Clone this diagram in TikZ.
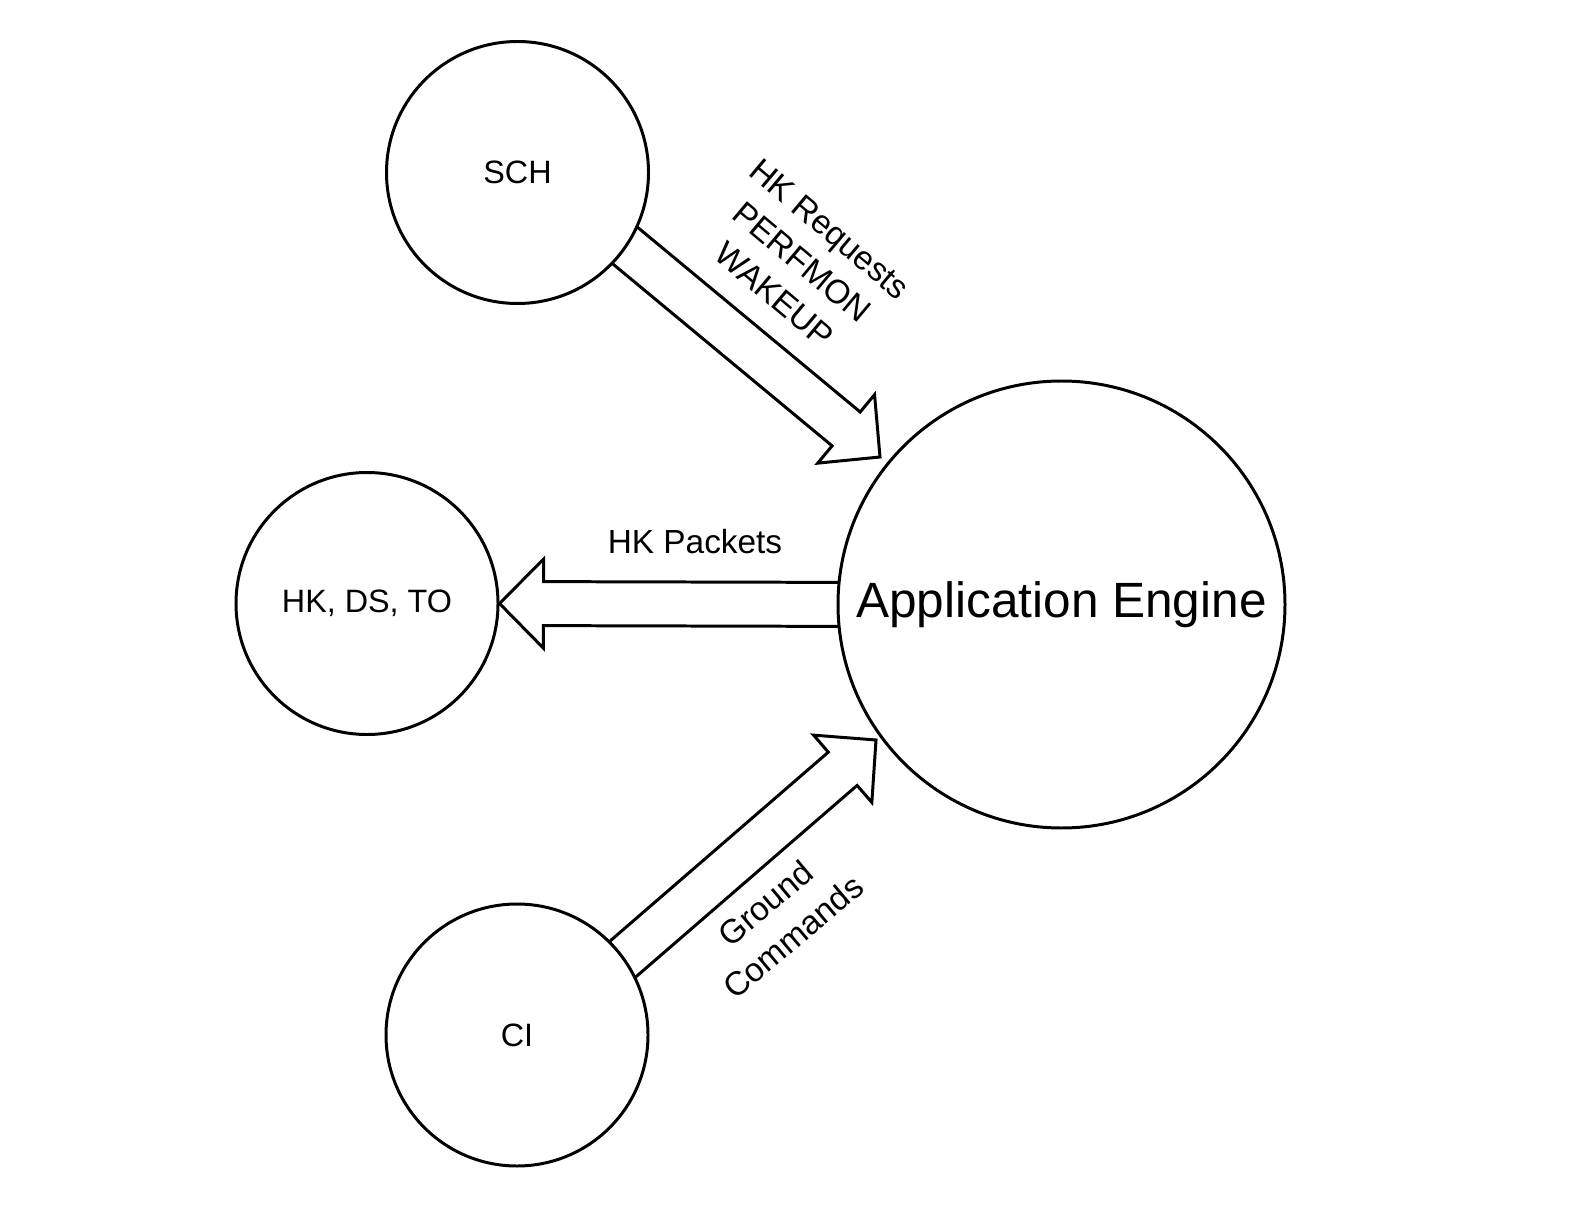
\documentclass[tikz,border=0pt]{standalone}
\usepackage{fontspec}
\setmainfont{Liberation Sans}
\usetikzlibrary{calc,backgrounds}

\tikzset{
  proc/.style={circle, draw, fill=white, line width=1.7pt, inner sep=0pt,
    minimum size=5.24cm, font=\fontsize{18.4}{22}\selectfont},
  flow/.style={draw, fill=white, line width=1.7pt},
  flowlabel/.style={align=center, font=\fontsize{19}{24.5}\selectfont}
}
% hollow block arrow from #1 to #2 (tip)
\newcommand{\fatarrow}[2]{
  \coordinate (hb) at ($(#2)!0.88cm!(#1)$);
  \draw[flow] ($(#1)!0.44cm!90:(#2)$) -- ($(hb)!0.44cm!90:(#2)$)
    -- ($(hb)!0.89cm!90:(#2)$) -- (#2) -- ($(hb)!0.89cm!-90:(#2)$)
    -- ($(hb)!0.44cm!-90:(#2)$) -- ($(#1)!0.44cm!-90:(#2)$) -- cycle;
}

\begin{document}
\begin{tikzpicture}
    \useasboundingbox (0,0) rectangle (31.4,-24.28);
    % Processes
    \node[proc] (sch) at (10.35,-3.45) {SCH};
    \node[proc] (hk) at (7.34,-12.07) {HK, DS, TO};
    \node[proc] (ci) at (10.34,-20.7) {CI};
    \node[proc, minimum size=8.94cm, font=\fontsize{28.2}{34}\selectfont]
      (ae) at (21.23,-12.09) {Application Engine};
    % Arrow ends
    \coordinate (schout) at ($(sch)+(1.56,-0.97)$);
    \coordinate (schin) at ($(ae)+(-3.63,2.95)$);
    \coordinate (aeout) at ($(ae)+(-3.63,0)$);
    \coordinate (hkin) at (hk.east);
    \coordinate (ciout) at ($(ci)+(1.54,1.02)$);
    \coordinate (ciin) at ($(ae)+(-3.71,-2.71)$);
    % Data flows
    \begin{scope}[on background layer]
      \fatarrow{schout}{schin}
      \fatarrow{aeout}{hkin}
      \fatarrow{ciout}{ciin}
    \end{scope}
    % Labels
    \node[flowlabel, rotate=-40] (reqlabel) at (16.04,-5.24) {HK Requests\\PERFMON\\WAKEUP};
    \node[flowlabel] (pktlabel) at (13.9,-10.84) {HK Packets};
    \node[flowlabel, rotate=40] (cmdlabel) at (15.58,-18.4) {Ground\\Commands};
\end{tikzpicture}
\end{document}
